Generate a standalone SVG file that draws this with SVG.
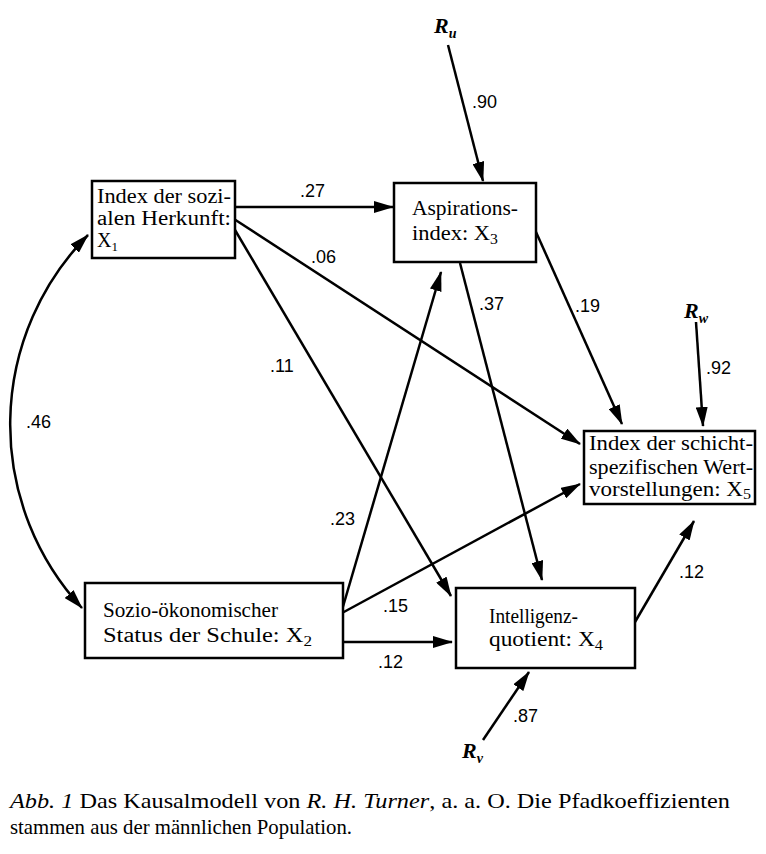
<svg xmlns="http://www.w3.org/2000/svg" width="766" height="854" viewBox="0 0 766 854">
<style>
.box{fill:#fff;stroke:#000;stroke-width:2.5}
.lbl{font-family:"Liberation Serif","Times New Roman",serif;font-size:20px;fill:#000}
.num{font-family:"Liberation Sans",Arial,sans-serif;font-size:18px;fill:#000}
.r{font-family:"Liberation Serif","Times New Roman",serif;font-size:22px;font-style:italic;font-weight:bold;fill:#000}
.cap{font-family:"Liberation Serif","Times New Roman",serif;font-size:22px;fill:#000}
.edge{fill:none;stroke:#000;stroke-width:2.5}
</style>
<defs>
<marker id="ah" markerUnits="userSpaceOnUse" markerWidth="20" markerHeight="12" refX="19" refY="6" orient="auto-start-reverse">
<path d="M0,0 L20,6 L0,12 z" fill="#000"/>
</marker>
</defs>
<rect width="766" height="854" fill="#fff"/>
<g id="connectors">
<path class="edge" d="M88,235 A270,270 0 0 0 82,608" marker-start="url(#ah)" marker-end="url(#ah)"/>
<line class="edge" x1="235" y1="207" x2="393" y2="207" marker-end="url(#ah)"/>
<line class="edge" x1="234" y1="219" x2="580" y2="444" marker-end="url(#ah)"/>
<line class="edge" x1="235" y1="230" x2="451" y2="596" marker-end="url(#ah)"/>
<line class="edge" x1="342" y1="610" x2="441" y2="272" marker-end="url(#ah)"/>
<line class="edge" x1="460" y1="263" x2="542" y2="580" marker-end="url(#ah)"/>
<line class="edge" x1="536" y1="232" x2="622" y2="424" marker-end="url(#ah)"/>
<line class="edge" x1="342" y1="613" x2="580" y2="484" marker-end="url(#ah)"/>
<line class="edge" x1="343" y1="642" x2="452" y2="642" marker-end="url(#ah)"/>
<line class="edge" x1="635" y1="622" x2="694" y2="521" marker-end="url(#ah)"/>
<line class="edge" x1="448" y1="45" x2="483" y2="181" marker-end="url(#ah)"/>
<line class="edge" x1="696" y1="322" x2="703" y2="426" marker-end="url(#ah)"/>
<line class="edge" x1="483" y1="740" x2="529" y2="672" marker-end="url(#ah)"/>
</g>
<g id="labels">
<text class="num" x="300" y="197">.27</text>
<text class="num" x="311" y="263">.06</text>
<text class="num" x="270" y="372">.11</text>
<text class="num" x="330" y="525">.23</text>
<text class="num" x="479" y="310">.37</text>
<text class="num" x="575" y="312">.19</text>
<text class="num" x="26" y="428">.46</text>
<text class="num" x="383" y="612">.15</text>
<text class="num" x="378" y="668">.12</text>
<text class="num" x="679" y="578">.12</text>
<text class="num" x="706" y="374">.92</text>
<text class="num" x="513" y="722">.87</text>
<text class="num" x="472" y="108">.90</text>
</g>
<g id="Ru"><text class="r" x="434" y="33">R<tspan font-size="14" dy="5">u</tspan></text></g>
<g id="Rw"><text class="r" x="684" y="318">R<tspan font-size="14" dy="5">w</tspan></text></g>
<g id="Rv"><text class="r" x="462" y="758">R<tspan font-size="14" dy="5">v</tspan></text></g>
<g id="X1">
<rect class="box" x="92" y="181" width="143" height="77"/>
<text class="lbl" x="97" y="203" textLength="134" lengthAdjust="spacingAndGlyphs">Index der sozi-</text>
<text class="lbl" x="97" y="225" textLength="134" lengthAdjust="spacingAndGlyphs">alen Herkunft:</text>
<text class="lbl" x="97" y="247">X<tspan font-size="13" dy="4">1</tspan></text>
</g>
<g id="X3">
<rect class="box" x="394" y="183" width="142" height="79"/>
<text class="lbl" x="412" y="215" textLength="106" lengthAdjust="spacingAndGlyphs">Aspirations-</text>
<text class="lbl" x="412" y="240" textLength="86" lengthAdjust="spacingAndGlyphs">index: X<tspan font-size="14" dy="4">3</tspan></text>
</g>
<g id="X5">
<rect class="box" x="584" y="431" width="171" height="73"/>
<text class="lbl" x="589" y="450" textLength="164" lengthAdjust="spacingAndGlyphs">Index der schicht-</text>
<text class="lbl" x="589" y="474" textLength="164" lengthAdjust="spacingAndGlyphs">spezifischen Wert-</text>
<text class="lbl" x="589" y="496" textLength="162" lengthAdjust="spacingAndGlyphs">vorstellungen: X<tspan font-size="14" dy="3">5</tspan></text>
</g>
<g id="X2">
<rect class="box" x="85" y="583" width="258" height="75"/>
<text class="lbl" x="103" y="617" textLength="175" lengthAdjust="spacingAndGlyphs">Sozio-ökonomischer</text>
<text class="lbl" x="103" y="642" textLength="209" lengthAdjust="spacingAndGlyphs">Status der Schule: X<tspan font-size="14" dy="4">2</tspan></text>
</g>
<g id="X4">
<rect class="box" x="456" y="588" width="179" height="80"/>
<text class="lbl" x="489" y="623" textLength="89" lengthAdjust="spacingAndGlyphs">Intelligenz-</text>
<text class="lbl" x="489" y="646" textLength="114" lengthAdjust="spacingAndGlyphs">quotient: X<tspan font-size="14" dy="4">4</tspan></text>
</g>
<g id="caption">
<text class="cap" x="10" y="808" textLength="720" lengthAdjust="spacingAndGlyphs"><tspan font-style="italic">Abb. 1</tspan>  Das Kausalmodell von <tspan font-style="italic">R. H. Turner</tspan>, a. a. O. Die Pfadkoeffizienten</text>
<text class="cap" x="10" y="834" textLength="342" lengthAdjust="spacingAndGlyphs">stammen aus der männlichen Population.</text>
</g>
</svg>
